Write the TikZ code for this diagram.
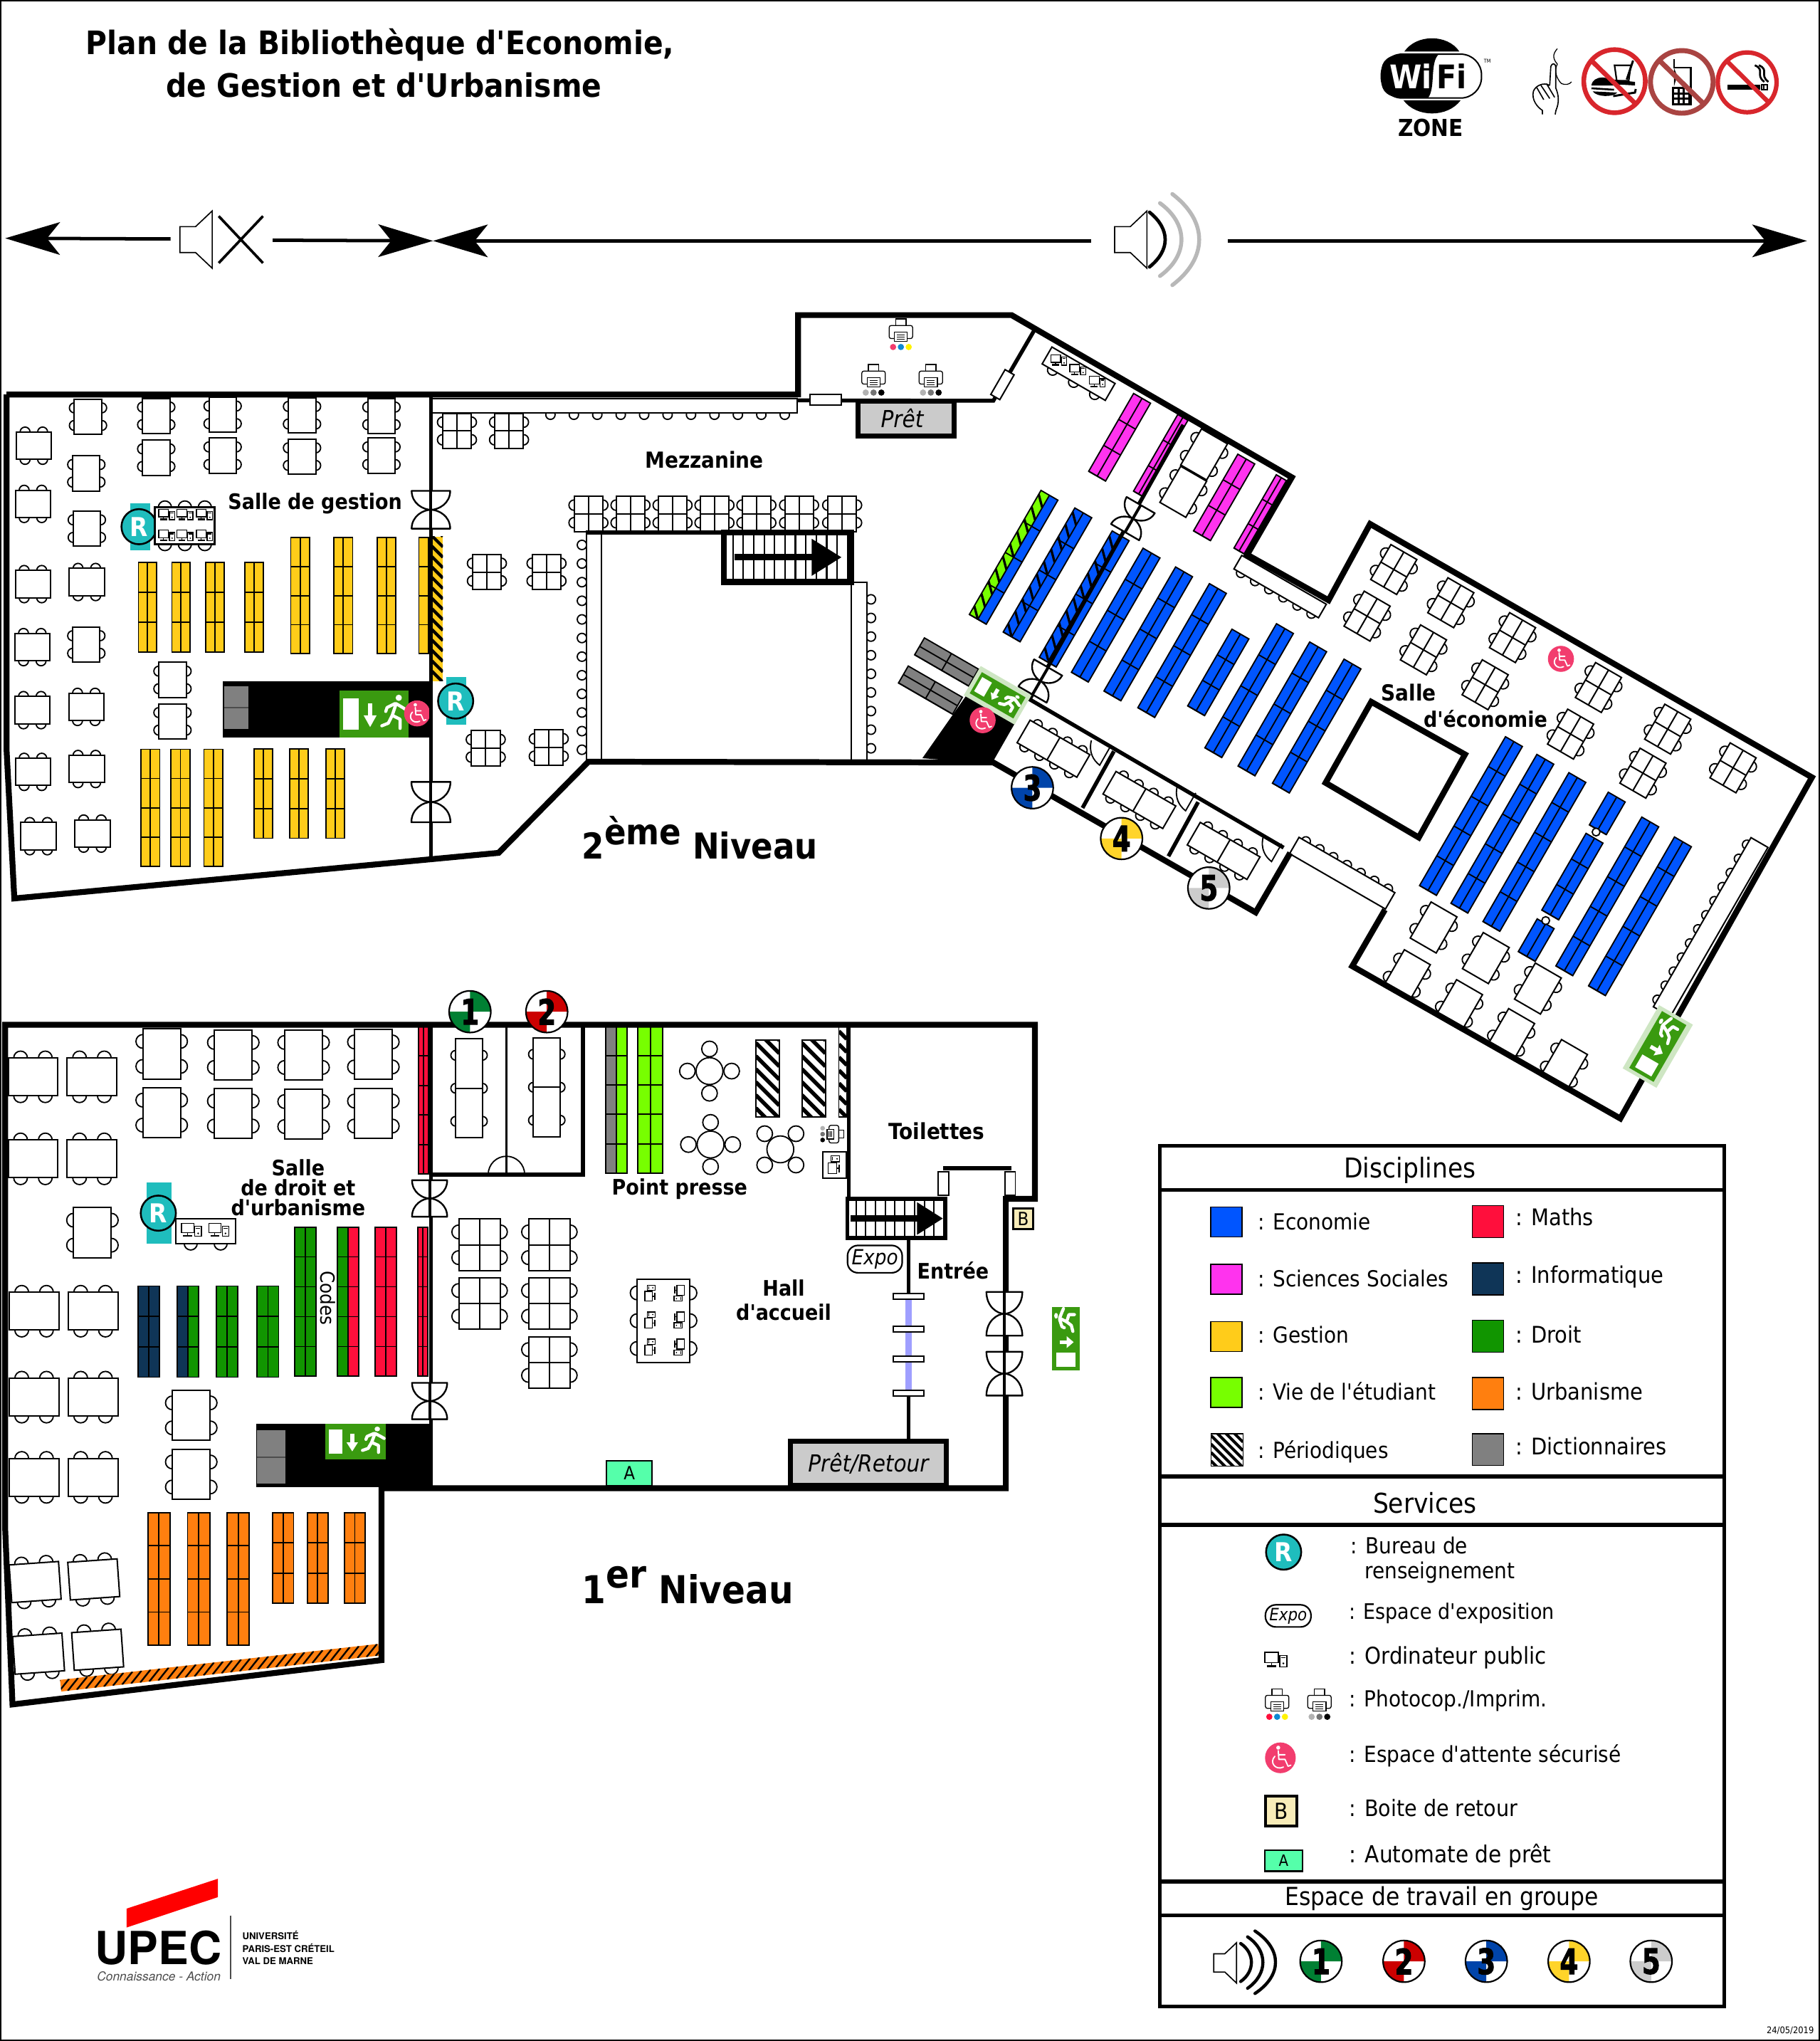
\documentclass[tikz,border=0pt]{standalone}
\usepackage{fontspec}
\setmainfont[Ligatures=TeXOff]{DejaVu Sans Condensed}
\newfontfamily\logofont{TeX Gyre Heros}
\newfontfamily\numfont[BoldFeatures={FakeBold=2,FakeStretch=0.75}]{DejaVu Sans}
\usetikzlibrary{arrows.meta}

\newcommand{\sized}[1]{\fontsize{#1}{#1}\selectfont}
\newcommand{\deskshape}[3]{%
  \pgfmathsetmacro\chairr{min(#1/5.5,5.3)}
  \foreach \k in {1,...,#3} {
    \pgfmathsetmacro\chairy{#2*(\k-0.5)/#3-#2/2}
    \draw[chairline] (-#1/2,\chairy) circle (\chairr) (#1/2,\chairy) circle (\chairr);
  }
  \draw[deskline] (-#1/2,-#2/2) rectangle (#1/2,#2/2);
}

\definecolor{ecoBlue}{HTML}{0055FF}
\definecolor{socMagenta}{HTML}{FF33EE}
\definecolor{gesYellow}{HTML}{FFCC1A}
\definecolor{vieLime}{HTML}{77FF00}
\definecolor{mathRed}{HTML}{FF0F3C}
\definecolor{infoNavy}{HTML}{0F3557}
\definecolor{droitGreen}{HTML}{119500}
\definecolor{urbaOrange}{HTML}{FF7F0F}
\definecolor{dicoGray}{HTML}{808080}
\definecolor{infoTeal}{HTML}{1FBDBD}
\definecolor{waitPink}{HTML}{F23D6E}
\definecolor{exitGreen}{HTML}{3A9A10}
\definecolor{deskGray}{HTML}{CBCBCB}
\definecolor{autoMint}{HTML}{55FFAA}
\definecolor{boxCream}{HTML}{F8ECB8}
\definecolor{gateBlue}{HTML}{9F9FFF}
\definecolor{noRed}{HTML}{D8262C}
\definecolor{noBrown}{HTML}{A94442}
\definecolor{upecRed}{HTML}{FF0000}
\definecolor{markGreen}{HTML}{008033}
\definecolor{markRed}{HTML}{CC0000}
\definecolor{markBlue}{HTML}{0044AA}
\definecolor{markYellow}{HTML}{FFD42A}
\definecolor{markGray}{HTML}{CCCCCC}

\tikzset{
  wall/.style={line width=4.5pt,line join=miter},
  midwall/.style={line width=3pt,line join=miter},
  lowwall/.style={line width=2pt},
  shelfline/.style={draw=black,line width=1pt},
  deskline/.style={draw=black,line width=1.1pt,fill=white},
  chairline/.style={draw=black,line width=1pt,fill=white},
  swatch/.style={draw=black,line width=0.8pt},
  roomlabel/.style={font=\sized{16.4}\bfseries,align=center,inner sep=0pt,yshift=-1pt},
  legendtext/.style={font=\sized{17},anchor=west,inner sep=0pt,text height=13.5pt,text depth=3pt},
  legendhead/.style={font=\sized{21},inner sep=0pt},
  levellabel/.style={font=\sized{29.5}\bfseries,anchor=base west,inner sep=0pt},
  infobadge/.style={circle,draw=black,line width=1.4pt,fill=infoTeal,text=white,minimum size=27pt,inner sep=0pt,font=\sized{20}\bfseries},
  expobadge/.style={draw=black,line width=1.2pt,rounded corners=8pt,fill=white,minimum width=42pt,minimum height=21pt,inner sep=0pt,font=\sized{16}\itshape},
  servicedesk/.style={draw=black,line width=4pt,fill=deskGray,inner sep=0pt,font=\sized{18}\itshape},
  bigarrow/.style={line width=2.6pt,-{Stealth[length=42pt,width=25pt,inset=10pt]}},
  pics/shelf/.style n args={5}{code={
    \fill[#4] (-#1/2,-#2/2) rectangle (0,#2/2);
    \fill[#5] (0,-#2/2) rectangle (#1/2,#2/2);
    \draw[shelfline] (-#1/2,-#2/2) rectangle (#1/2,#2/2) (0,-#2/2) -- (0,#2/2);
    \foreach \k in {1,...,#3} {
      \draw[shelfline] (-#1/2,{-#2/2+\k*#2/#3}) -- (#1/2,{-#2/2+\k*#2/#3});
    }
  }},
  pics/hatchbox/.style n args={5}{code={
    \path[#5] (-#1/2,-#2/2) rectangle (#1/2,#2/2);
    \begin{scope}
      \clip (-#1/2,-#2/2) rectangle (#1/2,#2/2);
      \pgfmathtruncatemacro\hatchn{(#1+#2)/#3}
      \foreach \k in {0,...,\hatchn} {
        \pgfmathsetmacro\hatchy{-#2/2-#1+\k*#3}
        \draw[line width=#4] (-#1/2,\hatchy) -- (#1/2,\hatchy+#1);
      }
    \end{scope}
  }},
  pics/desk/.style n args={3}{code={
    \deskshape{#1}{#2}{#3}
  }},
  pics/gridesk/.style n args={3}{code={
    \deskshape{#1}{#2}{#3}
    \draw[deskline] (0,-#2/2) -- (0,#2/2) (-#1/2,0) -- (#1/2,0);
  }},
  pics/splitdesk/.style n args={3}{code={
    \deskshape{#1}{#2}{#3}
    \draw[deskline] (-#1/2,0) -- (#1/2,0);
  }},
  pics/seatbench/.style n args={4}{code={
    \foreach \k in {1,...,#3} {
      \pgfmathsetmacro\chairx{#1*(\k-0.5)/#3-#1/2}
      \draw[chairline] (\chairx,#2/2) circle (#4);
    }
    \draw[deskline] (-#1/2,-#2/2) rectangle (#1/2,#2/2);
  }},
  pics/roundset/.style={code={
    \foreach \k in {0,90,180,270} {
      \draw[chairline] (\k:17) circle (6);
    }
    \draw[chairline] (0,0) circle (10.3);
  }},
  pics/doubledoor/.style n args={2}{code={
    \draw[line width=1.3pt,line join=round,fill=white] (-#1/2,-#2/2) -- (#1/2,-#2/2)
      .. controls (#1/2,-#2/6) and (#1/5,0) .. (0,0)
      .. controls (-#1/5,0) and (-#1/2,-#2/6) .. cycle;
    \draw[line width=1.3pt,line join=round,fill=white] (-#1/2,#2/2) -- (#1/2,#2/2)
      .. controls (#1/2,#2/6) and (#1/5,0) .. (0,0)
      .. controls (-#1/5,0) and (-#1/2,#2/6) .. cycle;
    \draw[line width=2.2pt] (0,-#2/2) -- (0,#2/2);
  }},
  pics/roomdoor/.style={code={
    \draw[line width=1pt] (-6.4,-19.1) .. controls (-8.7,-9.7) and (-4.7,-3.7) .. (0,0) -- (7.8,-13.7);
  }},
  pics/groupmark/.style n args={2}{code={
    \fill[white] (0,0) circle (16);
    \begin{scope}
      \clip (0,0) circle (16);
      \fill[#2] (0,0) rectangle (16,-16) (0,0) rectangle (-16,16);
    \end{scope}
    \draw[line width=1.2pt] (0,0) circle (16);
    \node[font=\sized{27}\numfont\bfseries,inner sep=0pt] (num) at (0,0) {#1};
  }},
  pics/pcicon/.style={code={
    \draw[line width=0.7pt,fill=white] (-8.5,-6) rectangle (2,2);
    \draw[line width=0.7pt] (-3.3,2) -- (-3.3,4);
    \draw[line width=1.2pt] (-7,4.6) -- (0.4,4.6);
    \draw[line width=0.7pt,fill=white] (3,-3.5) rectangle (8.5,5);
    \draw[line width=0.7pt] (4,-2) -- (7.5,-2);
    \fill (5.8,2.5) circle (0.8);
  }},
  pics/printer/.style n args={3}{code={
    \draw[line width=0.7pt,fill=white] (-4,-12) rectangle (4,-6);
    \draw[line width=0.7pt,fill=white,rounded corners=1.5pt] (-9,-7) rectangle (9,3);
    \draw[line width=0.7pt,fill=white] (-5,-2) rectangle (5,5);
    \draw[line width=0.5pt] (-3,0) -- (3,0) (-3,2) -- (3,2) (-3,3.5) -- (3,3.5);
    \fill[#1] (-6,9.5) circle (2.4);
    \fill[#2] (0,9.5) circle (2.4);
    \fill[#3] (6,9.5) circle (2.4);
  }},
  pics/waitsign/.style={code={
    \fill[waitPink] (0,0) circle (10);
    \fill[white] (-1.4,-6.6) circle (1.3);
    \draw[white,line width=1pt,line cap=round,line join=round] (-1.4,-4.6) -- (-1,1) -- (3,1) -- (5,5.5) -- (6.8,4.8) (-1.2,-2) -- (3,-2);
    \draw[white,line width=1pt,line cap=round] (-3.6,-1) .. controls (-7.5,3) and (-3,8.5) .. (2,6);
  }},
  pics/exitsign/.style={code={
    \fill[exitGreen] (-26.5,-18) rectangle (26.5,18);
    \fill[white] (-23.6,-12) rectangle (-11.8,12);
    \draw[white,line width=3pt] (-3,-8) -- (-3,3);
    \fill[white] (-8,1) -- (-3,10) -- (2,1) -- cycle;
    \fill[white] (19,-12.5) circle (2.4);
    \draw[white,line width=2.4pt,line cap=round,line join=round] (17,-8) -- (14,1)
      (17,-8) -- (22,-5) -- (25,-3) (16,-8) -- (10,-5) -- (9,-2)
      (14,1) -- (20,4) -- (20,11) (14,1) -- (11,7) -- (6,9);
  }},
  pics/exithalo/.style n args={2}{code={
    \fill[exitGreen!25] (-#1/2,-#2/2) rectangle (#1/2,#2/2);
  }},
  pics/speaker/.style={code={
    \draw[line width=0.9pt,fill=white,line join=miter] (-17.5,-7) -- (-9,-7) -- (0,-15.5) -- (0,15.5) -- (-9,7) -- (-17.5,7) -- cycle;
  }}
}

\begin{document}
\begin{tikzpicture}[x=1pt,y=-1pt]
  \useasboundingbox (0,0) rectangle (1398,1567.5);
  \draw[line width=2pt] (0,0) rectangle (1398,1567.5);

  % title and signs
  \node[font=\sized{24.8}\bfseries,inner sep=0pt] (titleA) at (292,34.5) {Plan de la Bibliothèque d'Economie,};
  \node[font=\sized{24.8}\bfseries,inner sep=0pt] (titleB) at (295,65.5) {de Gestion et d'Urbanisme};

  \fill (1078.7,39.6) .. controls (1088,26) and (1112,26) .. (1121,39.6) -- cycle;
  \fill (1078,77) .. controls (1088,90.5) and (1112,90.5) .. (1122,77) -- cycle;
  \draw[line width=1.1pt,fill=white,rounded corners=16pt] (1061,41.6) rectangle (1138,75.3);
  \fill (1079,41.6) -- (1105.2,41.6) .. controls (1098,48) and (1103,68) .. (1096.8,75.3) -- (1079,75.3)
    .. controls (1066,75.3) and (1061,70) .. (1061,62) -- (1061,55) .. controls (1061,47) and (1066,41.6) .. (1079,41.6) -- cycle;
  \node[font=\sized{25}\bfseries,text=white,inner sep=0pt] (wifiWi) at (1083.5,58.4) {Wi};
  \node[font=\sized{25}\bfseries,inner sep=0pt] (wifiFi) at (1115.3,58.4) {Fi};
  \node[font=\sized{4},inner sep=0pt] (wifiTm) at (1142.5,47) {TM};
  \node[font=\sized{18}\bfseries,inner sep=0pt] (wifiZone) at (1099,98.4) {ZONE};

  \begin{scope}[shift={(1049.8,21.9)},x=0.2092pt,y=-0.1822pt]
    % finger on the lips
    \draw[line width=0.7pt] (700,85) .. controls (680,110) and (685,130) .. (700,150)
      .. controls (685,180) and (700,215) .. (715,232) .. controls (730,240) and (745,235) .. (752,225);
    \draw[line width=0.9pt,line join=round] (672,240) -- (676,160) .. controls (680,145) and (692,145) .. (694,160) -- (694,250)
      .. controls (705,280) and (708,310) .. (695,345) -- (692,362) (645,362) -- (645,345)
      .. controls (625,330) and (605,300) .. (612,265) .. controls (620,240) and (650,225) .. (672,240)
      (625,250) -- (650,300) (640,240) -- (672,295) (660,232) -- (690,290);
    % no food
    \fill[white] (910,222) ellipse [x radius=115,y radius=135];
    \fill (825,240) .. controls (830,195) and (900,195) .. (908,240) -- cycle;
    \draw[line width=1.4pt] (825,252) -- (908,258);
    \fill (830,265) -- (920,270) .. controls (905,290) and (845,290) .. (830,265) -- cycle;
    \draw[line width=1.2pt,fill=white] (910,155) -- (970,155) -- (962,220) -- (918,220) -- cycle;
    \draw[line width=1.6pt] (978,135) -- (955,215);
    \fill (905,215) -- (985,225) -- (985,240) -- (910,235) -- cycle;
    \draw[line width=1.6pt] (905,285) -- (985,270) -- (988,255);
    \draw[noRed,line width=3.6pt] (910,222) ellipse [x radius=113,y radius=133] (825,135) -- (985,315);
    % no phone
    \fill[white] (1157,225) ellipse [x radius=118,y radius=135];
    \draw[line width=1.2pt] (1128,130) -- (1128,165) -- (1190,165) -- (1190,245);
    \fill (1128,165) -- (1128,245) -- (1140,200) -- cycle;
    \fill (1122,245) rectangle (1195,325);
    \foreach \kx in {1135,1155,1175} {
      \foreach \ky in {262,285,308} {
        \fill[white] (\kx-6,\ky-7) rectangle (\kx+6,\ky+7);
      }
    }
    \draw[noBrown,line width=3.8pt] (1157,225) ellipse [x radius=115,y radius=132] (1075,135) -- (1235,315);
    % no smoking
    \fill[white] (1397,227) ellipse [x radius=110,y radius=128];
    \fill (1325,237) rectangle (1445,258);
    \draw[line width=1pt] (1450,237) rectangle (1470,258) (1458,237) -- (1458,258);
    \draw[line width=1.5pt] (1425,155) .. controls (1465,175) and (1425,195) .. (1460,225);
    \draw[line width=1.5pt] (1440,155) .. controls (1480,175) and (1440,195) .. (1475,225);
    \draw[noRed,line width=3.4pt] (1397,227) ellipse [x radius=108,y radius=126] (1325,140) -- (1475,310);
  \end{scope}

  % noise zones
  \coordinate (quietEnd) at (4,183);
  \coordinate (quietStart) at (131,183.5);
  \coordinate (quietMidA) at (209.5,184.5);
  \coordinate (limit) at (332.6,185);
  \coordinate (loudStart) at (838,185);
  \coordinate (loudMid) at (943,185);
  \coordinate (loudEnd) at (1388,185);
  \draw[bigarrow] (quietStart) -- (quietEnd);
  \draw[bigarrow] (quietMidA) -- (limit);
  \draw[bigarrow] (loudStart) -- (limit);
  \draw[bigarrow] (loudMid) -- (loudEnd);
  \pic[scale=1.42] at (163,184) {speaker};
  \draw[line width=2pt] (168,166) -- (202,202) (202,166) -- (168,202);
  \pic[scale=1.42] at (881,184) {speaker};
  \draw[line width=2.6pt,line cap=round] (883,163) .. controls (899,176) and (899,192) .. (883,205);
  \draw[black!28,line width=3pt,line cap=round] (891,156) .. controls (913,172) and (913,196) .. (891,212);
  \draw[black!28,line width=3pt,line cap=round] (900.5,149) .. controls (928,170) and (928,198) .. (900.5,219);

  % second level, salle de gestion
  \foreach \tx/\ty in {67.6/320,120/319.4,120/351.5,171/318.6,171/350,232/318.9,232/350.7,293/319.4,293/350,66.3/363.5,66.7/406,66.3/495,132.5/522.2,132.5/554} {
    \pic at (\tx,\ty) {desk={21}{27}{2}};
  }
  \foreach \tx/\ty in {26/342.3,25.3/387,25.3/448.6,66.7/447,24.8/497,24.8/545.4,66.3/542.9,25.3/592.8,66.7/590.6,29.6/642.2,71/640.2} {
    \pic[rotate=90] at (\tx,\ty) {desk={21}{27}{2}};
  }
  \foreach \sx in {113.3,139,165.2,195.3} {
    \pic at (\sx,466.2) {shelf={14}{69}{3}{gesYellow}{gesYellow}};
  }
  \foreach \sx in {230.6,263.7,296.9,329} {
    \pic at (\sx,457.5) {shelf={14.5}{89}{4}{gesYellow}{gesYellow}};
  }
  \foreach \sx in {115.5,138.6,163.9} {
    \pic at (\sx,620.4) {shelf={14.5}{90}{4}{gesYellow}{gesYellow}};
  }
  \foreach \sx in {202.3,229.7,257.6} {
    \pic at (\sx,609.5) {shelf={14}{68.6}{3}{gesYellow}{gesYellow}};
  }
  \pic at (336,467.5) {hatchbox={8.5}{111}{8}{2.4}{fill=gesYellow}};
  \fill (170.9,523.3) rectangle (331,566.3);
  \fill[dicoGray] (172,527) rectangle (191,560);
  \draw[shelfline,draw=black!70] (172,543.5) -- (191,543.5);
  \pic at (287.3,548.4) {exitsign};
  \pic at (320.4,547.9) {waitsign};
  \fill[infoTeal] (100.3,386.4) rectangle (115.5,422.6);
  \node[infobadge] (infoGestion) at (106.8,404.5) {R};
  \pic[rotate=90] at (142,403.8) {desk={28}{46}{3}};
  \draw[line width=1.8pt] (119,389.7) rectangle (164.8,417.9);
  \foreach \px in {128,142,157} {
    \pic[scale=0.72] at (\px,395.5) {pcicon};
    \pic[scale=0.72] at (\px,411.5) {pcicon};
  }
  \node[roomlabel] (salleGestion) at (242,386) {Salle de gestion};

  % second level, mezzanine
  \foreach \k in {0,...,10} {
    \draw[chairline] (422.8+\k*18,318.5) circle (3.6);
  }
  \draw[deskline] (331.3,306) rectangle (612.5,317.2);
  \foreach \tx/\ty in {351/331,391/331,374/439.4,419.8/439.4,373.1/574.7,421.5/574.1,452/394.7,484.3/394.7,516.6/394.7,548.8/394.7,581/394.7,613.8/394.7,646.9/394.7} {
    \pic at (\tx,\ty) {gridesk={22}{27}{2}};
  }
  \foreach \k in {0,...,11} {
    \draw[chairline] (447,418.5+\k*14.3) circle (3.6);
  }
  \foreach \k in {0,...,8} {
    \draw[chairline] (669,460.3+\k*14.3) circle (3.6);
  }
  \draw[deskline] (450.5,409) rectangle (462,585);
  \draw[deskline] (654,447) rectangle (666,585);
  \draw[midwall] (450,409) -- (556,409);
  \draw[wall,fill=white] (556,409) rectangle (654,447);
  \foreach \k in {0,...,11} {
    \draw[line width=1.2pt] (563+\k*8,411) -- (563+\k*8,445);
  }
  \draw[line width=5pt,-{Triangle[length=23pt,width=27pt]}] (564,428) -- (646.5,428);
  \node[roomlabel,font=\sized{17}\bfseries] (mezzanine) at (541,352) {Mezzanine};
  \fill[infoTeal] (343,519.7) rectangle (358,556.5);
  \node[infobadge] (infoMezz) at (350,538.4) {R};
  \node[levellabel,font=\sized{27.4}\bfseries] (levelTwo) at (447,659.7) {2\raisebox{11pt}{ème} Niveau};

  % second level, prêt office
  \pic at (692,257) {printer={waitPink}{cyan!70!blue}{yellow}};
  \pic at (671,292) {printer={black!30}{black!55}{black}};
  \pic at (715,292) {printer={black!30}{black!55}{black}};

  % economy wing, shelves
  \foreach \sx/\sy/\sl/\sn in {804.6/441.5/110/4,832.8/460/112/4,857/472.4/110/4,882/486.8/110/4,908/499.6/110/4,935.8/516.4/68/3,959.5/530.4/110/4,985/544.4/110/4,1011.4/557.6/110/4,1129.9/626.7/132/5,1154/640.3/132/5,1178.6/654.3/132/5,1234.6/624.7/29/1,1207.8/673.2/68/3,1180/722/29/1,1234.6/688.4/132/5,1259.7/703.7/132/5} {
    \pic[rotate=-30] at (\sx,\sy) {shelf={15}{\sl}{\sn}{ecoBlue}{ecoBlue}};
  }
  \pic[rotate=-30] at (778.6,428) {shelf={15}{110}{4}{vieLime}{ecoBlue}};
  \foreach \sx/\sy in {775.35/426.1,801.35/439.6,829.55/458.1} {
    \pic[rotate=-30] at (\sx,\sy) {hatchbox={7.5}{110}{11}{1.8}{fill=none}};
  }
  \pic[rotate=-30] at (860,335.8) {shelf={15}{69}{3}{socMagenta}{socMagenta}};
  \pic[rotate=-30] at (891.6,350) {shelf={9}{68}{3}{socMagenta}{socMagenta}};
  \pic[rotate=-30] at (940.3,382) {shelf={15}{68}{3}{socMagenta}{socMagenta}};
  \pic[rotate=-30] at (968,395) {shelf={9}{65}{3}{socMagenta}{socMagenta}};
  \draw[line width=1pt,fill=white] (1226,639) circle (3);
  \draw[line width=1pt,fill=white] (1187.3,707) circle (3);
  \pic[rotate=-30] at (727.1,508.4) {shelf={48}{15}{1}{dicoGray}{dicoGray}};
  \pic[rotate=-30] at (714.7,530) {shelf={48}{15}{1}{dicoGray}{dicoGray}};
  \draw[shelfline,rotate around={-30:(727.1,508.4)}] (703,508.4) -- (751,508.4);
  \draw[shelfline,rotate around={-30:(714.7,530)}] (690.7,530) -- (738.7,530);

  % economy wing, tables
  \foreach \tx/\ty in {1070.6/437.4,1050.1/473.2,1114.4/462.9,1093.4/499.1,1161.8/489.7,1140.8/525.9,1227.8/528,1206.4/563.8,1281/560,1262/593.8,1331.2/589.7} {
    \pic[rotate=-30] at (\tx,\ty) {gridesk={23}{31}{2}};
  }
  \foreach \tx/\ty in {1101.2/712.3,1080.7/749,1141.3/735.8,1120.8/772,1181.3/759.2,1160.8/794.2,1201.4/818,924.9/349,908.9/377.7} {
    \pic[rotate=-30] at (\tx,\ty) {desk={23}{32}{2}};
  }
  \foreach \tx/\ty in {809.2/575,875.2/614.4,939.9/653.5} {
    \pic[rotate=60] at (\tx,\ty) {splitdesk={20}{53}{4}};
  }
  \pic[rotate=-30] at (983.3,450.5) {seatbench={75}{12}{6}{3.5}};
  \pic[rotate=150] at (1031,670.6) {seatbench={85}{14.5}{7}{3.5}};
  \pic[rotate=-120] at (1314,712) {seatbench={150}{15}{12}{3.5}};
  \pic[rotate=-30] at (828.5,287) {seatbench={56}{15}{3}{4}};
  \foreach \px/\py in {813.2/276.9,827.8/284.3,842.8/293.4} {
    \pic[scale=0.72] at (\px,\py) {pcicon};
  }

  % second level, walls
  \fill (708.5,582.3) -- (741.7,534.9) -- (752.7,515.7) -- (791.8,534) -- (761.8,586.5) -- cycle;
  \draw[wall] (5,303) -- (613,303) (613,305) -- (613,242) -- (777,242) -- (992.3,366.6) -- (958,426) -- (1020.5,461) -- (1052.4,402.4) -- (1391.8,597) -- (1244.6,859) -- (1038.7,742) -- (1063.8,698.7);
  \draw[wall] (5,303) -- (5,575) -- (11,690) -- (383,655) -- (452,585) -- (763,585.6) -- (964.5,700.7) -- (991,655);
  \draw[midwall] (331,303) -- (331,658);
  \draw[midwall] (613,307.5) -- (763,307.8) -- (796,251);
  \draw[deskline] (622,303) rectangle (646,311);
  \draw[deskline,rotate around={60:(770,295.4)}] (759,291.4) rectangle (781,299.4);
  \node[servicedesk,minimum width=74pt,minimum height=27pt] (pretDesk) at (696,321.5) {\hspace*{-6pt}Prêt};
  \draw[midwall] (908.9,326.3) -- (791,537);
  \draw[midwall] (789,536) -- (986,651);
  \draw[midwall] (855.6,577) -- (831.5,620.5) (920.3,616) -- (897.5,657.6);
  \draw[wall] (1018.2,601.2) -- (1053.3,539) -- (1125.3,579.4) -- (1089.8,643.2) -- cycle;
  \foreach \hx/\hy in {844.7/587.7,910.7/622.7,976.7/661.7} {
    \pic at (\hx,\hy) {roomdoor};
  }
  \pic at (331,391.5) {doubledoor={29.6}{29}};
  \pic at (331,616) {doubledoor={30}{31}};
  \pic[rotate=-30] at (870.2,398.3) {doubledoor={25}{24}};
  \pic[rotate=-30] at (799.1,523) {doubledoor={25}{24}};
  \pic[rotate=-30] at (766.3,534) {exithalo={45}{26}};
  \pic[rotate=-30,xscale=0.73,yscale=0.52] at (766.3,534) {exitsign};
  \pic at (754.8,553.1) {waitsign};
  \pic at (1199,506) {waitsign};
  \pic[rotate=60] at (1273.4,803.7) {exithalo={56}{30}};
  \pic[rotate=60,xscale=0.95,yscale=0.6] at (1273.4,803.7) {exitsign};
  \node[roomlabel,font=\sized{17}\bfseries] (salleEco) at (1082,531) {Salle};
  \node[roomlabel] (salleEcoB) at (1141,551) {d'économie};
  \pic (roomC) at (793,605) {groupmark={3}{markBlue}};
  \pic (roomD) at (861.5,644) {groupmark={4}{markYellow}};
  \pic (roomE) at (928.5,682) {groupmark={5}{markGray}};

  % first level, law and town planning room
  \foreach \tx/\ty in {124.2/809.4,124.2/854.5,179.2/810.2,179.2/855.2,233.2/810.2,233.2/855.6,286.8/809.8,286.8/855.2,71/946.7,146.9/1087,146.9/1132.4} {
    \pic at (\tx,\ty) {desk={29}{38.4}{2}};
  }
  \foreach \tx/\ty in {25.3/827,70.6/827,25.3/890,70.6/890,26.2/1007,71.5/1007,26.2/1073,71.5/1073,26.2/1134.6,71.5/1134.6} {
    \pic[rotate=90] at (\tx,\ty) {desk={29}{38}{2}};
  }
  \foreach \tx/\ty in {27/1215,72/1213,29.6/1270,75/1267} {
    \pic[rotate=94] at (\tx,\ty) {desk={29}{38}{2}};
  }
  \fill[infoTeal] (112.5,908.3) rectangle (131.6,955);
  \node[infobadge] (infoDroit) at (121.6,931.7) {R};
  \pic at (158,945.5) {seatbench={46}{19}{2}{5}};
  \pic[scale=0.9] at (147,945) {pcicon};
  \pic[scale=0.9] at (168,945) {pcicon};
  \foreach \sx/\scola/\scolb in {114.2/infoNavy/infoNavy,144.3/infoNavy/droitGreen,174.4/droitGreen/droitGreen,205.8/droitGreen/droitGreen} {
    \pic at (\sx,1022.7) {shelf={16.5}{70}{3}{\scola}{\scolb}};
  }
  \foreach \sx/\scola/\scolb in {234.5/droitGreen/droitGreen,267.2/droitGreen/mathRed,296.4/mathRed/mathRed} {
    \pic at (\sx,999.7) {shelf={16.5}{114.7}{5}{\scola}{\scolb}};
  }
  \pic at (324.8,999.7) {shelf={8}{114.7}{5}{mathRed}{mathRed}};
  \pic at (325.4,845) {shelf={7.5}{113.5}{5}{mathRed}{mathRed}};
  \foreach \sx in {122,152.6,183} {
    \pic at (\sx,1212.6) {shelf={17}{101.8}{4}{urbaOrange}{urbaOrange}};
  }
  \foreach \sx in {217.5,244,272.5} {
    \pic at (\sx,1196.5) {shelf={16}{69.5}{3}{urbaOrange}{urbaOrange}};
  }
  \pic[rotate=96.45] at (168.8,1280.8) {hatchbox={9}{246}{7}{1.3}{fill=urbaOrange}};
  \fill (197,1093.6) rectangle (331,1142);
  \fill[dicoGray] (197.5,1098.5) rectangle (219,1139.5);
  \draw[shelfline,draw=black!70] (197.5,1119) -- (219,1119);
  \pic[xscale=0.875,yscale=0.765] at (273.2,1107) {exitsign};
  \node[roomlabel] (salleDroit) at (229,911) {Salle\\[-1pt]de droit et\\[-1pt]d'urbanisme};
  \node[font=\sized{15},rotate=-90,inner sep=0pt] (codes) at (252,997) {Codes};

  % first level, group rooms and hall
  \pic at (360.3,835.8) {splitdesk={20.5}{76}{3}};
  \pic at (420,835) {splitdesk={20.5}{76}{3}};
  \foreach \tx/\ty in {368.4/956,368.4/1001,422/956,422/1001,422/1046.4} {
    \pic at (\tx,\ty) {gridesk={32}{39.5}{2}};
  }
  \pic at (509.7,1014.3) {desk={40.5}{64}{3}};
  \foreach \py in {993.2,1013.7,1034.6} {
    \pic[rotate=90,scale=0.72] at (499.6,\py) {pcicon};
    \pic[rotate=-90,scale=0.72] at (521.4,\py) {pcicon};
  }
  \pic at (473.4,844.5) {shelf={16.7}{113}{5}{dicoGray}{vieLime}};
  \pic at (499.5,844.5) {shelf={19}{113}{5}{vieLime}{vieLime}};
  \pic at (545,822.6) {roundset};
  \pic at (545.8,879) {roundset};
  \pic[rotate=45] at (599.4,882.7) {roundset};
  \pic at (589.6,828.4) {hatchbox={18}{58.8}{10}{3}{fill=white}};
  \draw[shelfline] (580.6,799) rectangle (598.5,857.8);
  \pic at (625,828.4) {hatchbox={18}{58.8}{10}{3}{fill=white}};
  \draw[shelfline] (616,799) rectangle (634,857.8);
  \pic at (647.4,823) {hatchbox={6}{70}{10}{3}{fill=white}};
  \draw[shelfline] (644.3,788) rectangle (650.4,858);
  \pic[rotate=-90,scale=0.75] at (639,871) {printer={black!30}{black!55}{black}};
  \draw[deskline] (632,884.5) rectangle (650,904.7);
  \pic[rotate=90,scale=0.8] at (641,894.6) {pcicon};

  % first level, walls
  \draw[wall] (4,787) -- (795,787) -- (795,920.7) -- (772.6,920.7) -- (772.6,1143) -- (293,1143) -- (293,1275) -- (9.6,1309) -- (4,1175) -- cycle;
  \draw[lowwall,line width=2.6pt] (331,787) -- (331,1143);
  \draw[midwall] (331,902) -- (447.7,902) -- (447.7,787);
  \draw[lowwall] (389,787) -- (389,902);
  \draw[line width=1pt] (375,902) arc[start angle=180,end angle=270,radius=14] -- (389,902);
  \draw[line width=1pt] (403,902) arc[start angle=360,end angle=270,radius=14];
  \draw[midwall] (652,787) -- (652,920.7);
  \draw[midwall] (724.4,897.2) -- (776.8,897.2);
  \draw[deskline,line width=1pt] (720.7,900) rectangle (729,917.9);
  \draw[deskline,line width=1pt] (771.8,900) rectangle (779.9,917.9);
  \draw[midwall,fill=white] (651,920.7) rectangle (726,950.8);
  \foreach \k in {0,...,8} {
    \draw[line width=1.1pt] (657.5+\k*7.5,922) -- (657.5+\k*7.5,949.5);
  }
  \draw[line width=4.7pt,-{Triangle[length=20pt,width=23.6pt]}] (653.6,935.8) -- (724.4,935.8);
  \draw[midwall] (698,951) -- (698,993) (698,1072) -- (698,1106);
  \fill[gateBlue] (695.7,995) rectangle (700.3,1070);
  \foreach \py in {995.6,1020.5,1043.5,1069.8} {
    \draw[deskline] (686,\py-2.2) rectangle (709.7,\py+2.2);
  }
  \pic at (771.5,1009) {doubledoor={27.6}{33.6}};
  \pic at (771.5,1055) {doubledoor={27.6}{33.6}};
  \pic at (330,920.4) {doubledoor={27}{28}};
  \pic at (330,1076) {doubledoor={27}{28}};
  \pic[rotate=90,xscale=0.92,yscale=0.6] at (818.7,1028) {exitsign};
  \node[expobadge] (expoPlan) at (672,967) {Expo};
  \node[draw=black,line width=1.6pt,fill=boxCream,minimum width=15pt,minimum height=16pt,inner sep=0pt,font=\sized{14}] (boxPlan) at (786,936) {B};
  \node[draw=black,line width=1pt,fill=autoMint,minimum width=35pt,minimum height=19pt,inner sep=0pt,font=\sized{14}] (autoPlan) at (483.5,1131.5) {A};
  \node[servicedesk,minimum width=120pt,minimum height=34pt] (retourDesk) at (667,1124) {Prêt/Retour};
  \node[roomlabel,font=\sized{17}\bfseries] (toilettes) at (719.5,867.5) {Toilettes};
  \node[roomlabel] (entree) at (732,975) {Entrée};
  \node[roomlabel] (pointPresse) at (522,912) {Point presse};
  \node[roomlabel] (hall) at (602,997.5) {Hall\\[2pt]d'accueil};
  \pic (roomA) at (361,777) {groupmark={1}{markGreen}};
  \pic (roomB) at (420,777) {groupmark={2}{markRed}};
  \node[levellabel] (levelOne) at (447,1231.6) {1\raisebox{12pt}{er} Niveau};

  % logo
  \fill[upecRed] (97.3,1465.8) -- (167.3,1442.9) -- (167.3,1457) -- (97.3,1480.3) -- cycle;
  \node[font=\sized{35}\logofont\bfseries,inner sep=0pt] (upecMark) at (121.6,1496.2) {UPEC};
  \node[font=\sized{9.5}\logofont\itshape,text=black!70,inner sep=0pt] (upecLine) at (122,1518) {Connaissance - Action};
  \draw[black!70,line width=1pt] (177,1471) -- (177,1520);
  \node[font=\sized{7.2}\logofont\bfseries,anchor=west,inner sep=0pt] (upecA) at (186,1486.3) {UNIVERSITÉ};
  \node[font=\sized{7.2}\logofont\bfseries,anchor=west,inner sep=0pt] (upecB) at (186,1495.9) {PARIS-EST CRÉTEIL};
  \node[font=\sized{7.2}\logofont\bfseries,anchor=west,inner sep=0pt] (upecC) at (186,1506) {VAL DE MARNE};

  % legend
  \draw[midwall] (891,880) rectangle (1324.5,1541);
  \draw[midwall] (891,914) -- (1324.5,914) (891,1134) -- (1324.5,1134) (891,1171) -- (1324.5,1171) (891,1445) -- (1324.5,1445) (891,1471) -- (1324.5,1471);
  \node[legendhead] (headDisc) at (1083,899) {Disciplines};
  \node[legendhead] (headServ) at (1094.5,1154) {Services};
  \node[legendhead,font=\sized{19.1}] (headGroup) at (1107.5,1458) {Espace de travail en groupe};

  \foreach \sy/\scol/\stxt/\ty [count=\i] in {927/ecoBlue/{: Economie}/939,971/socMagenta/{: Sciences Sociales}/983,1015/gesYellow/{: Gestion}/1026,1058/vieLime/{: Vie de l'étudiant}/1070} {
    \fill[\scol,swatch] (930,\sy) rectangle (954,\sy+23);
    \node[legendtext] (discL\i) at (966,\ty) {\stxt};
  }
  \pic at (942.5,1113.5) {hatchbox={24.5}{25}{6.5}{2.2}{fill=white}};
  \draw[swatch] (930.2,1101) rectangle (954.8,1126);
  \node[legendtext] (discL5) at (966,1115) {: Périodiques};
  \foreach \sy/\scol/\stxt/\ty [count=\i] in {926/mathRed/{: Maths}/936,970/infoNavy/{: Informatique}/980,1014/droitGreen/{: Droit}/1026,1058/urbaOrange/{: Urbanisme}/1070,1101/dicoGray/{: Dictionnaires}/1112} {
    \fill[\scol,swatch] (1131,\sy) rectangle (1155,\sy+24.5);
    \node[legendtext,font=\sized{17.6}] (discR\i) at (1164,\ty) {\stxt};
  }

  \node[infobadge] (infoLegend) at (986,1192) {R};
  \node[legendtext] (servA) at (1037,1188) {: Bureau de};
  \node[legendtext] (servAb) at (1048,1207) {renseignement};
  \node[expobadge,minimum width=35pt,minimum height=17pt,font=\sized{13}\itshape] (expoLegend) at (989.5,1241) {Expo};
  \node[legendtext,font=\sized{16.4}] (servB) at (1036,1238.5) {: Espace d'exposition};
  \pic at (980,1275) {pcicon};
  \node[legendtext,font=\sized{17.8}] (servC) at (1036,1272.5) {: Ordinateur public};
  \pic at (981,1309) {printer={mathRed}{cyan!70!blue}{yellow}};
  \pic at (1013.5,1309) {printer={black!30}{black!55}{black}};
  \node[legendtext] (servD) at (1036,1305.5) {: Photocop./Imprim.};
  \pic[scale=1.18] at (983.5,1350) {waitsign};
  \node[legendtext] (servE) at (1036,1348) {: Espace d'attente sécurisé};
  \node[draw=black,line width=2pt,fill=boxCream,minimum width=24pt,minimum height=23pt,inner sep=0pt,font=\sized{17}] (boxLegend) at (984,1391) {B};
  \node[legendtext,font=\sized{17.4}] (servF) at (1036,1390) {: Boite de retour};
  \node[draw=black,line width=1.4pt,fill=autoMint,minimum width=29pt,minimum height=16pt,inner sep=0pt,font=\sized{12}] (autoLegend) at (986,1429) {A};
  \node[legendtext,font=\sized{18}] (servG) at (1036,1425.5) {: Automate de prêt};

  \pic at (949.8,1507.5) {speaker};
  \draw[line width=2.4pt,line cap=round] (953,1492.6) .. controls (964,1500) and (964,1514) .. (953,1521.8);
  \draw[line width=2.4pt,line cap=round] (958.3,1487.5) .. controls (974,1498) and (974,1516) .. (958.3,1527);
  \draw[line width=2.4pt,line cap=round] (964,1483) .. controls (985,1497) and (985,1517) .. (964,1531);
  \foreach \mx/\mn/\mc in {1014.7/1/markGreen,1078.4/2/markRed,1141.7/3/markBlue,1205.2/4/markYellow,1268.3/5/markGray} {
    \pic (legMark\mn) at (\mx,1506.3) {groupmark={\mn}{\mc}};
  }
  \node[font=\sized{7},anchor=east,inner sep=0pt] (dateStamp) at (1393.5,1559.5) {24/05/2019};
\end{tikzpicture}
\end{document}
